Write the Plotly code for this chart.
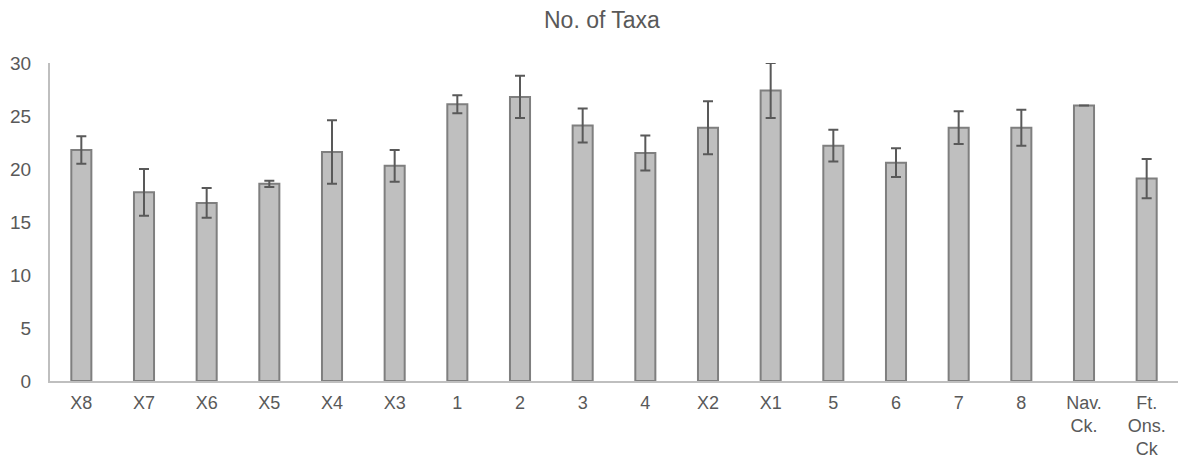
import plotly.graph_objects as go

# Sampling sites along the stream, mean taxa counts and their error bars
sites = ["X8", "X7", "X6", "X5", "X4", "X3", "1", "2", "3", "4",
         "X2", "X1", "5", "6", "7", "8", "Nav.<br>Ck.", "Ft.<br>Ons.<br>Ck"]
taxa_mean = [21.8, 17.8, 16.8, 18.6, 21.6, 20.3, 26.1, 26.8, 24.1, 21.5,
             23.9, 27.4, 22.2, 20.6, 23.9, 23.9, 26.0, 19.1]
taxa_err = [1.3, 2.2, 1.4, 0.3, 3.0, 1.5, 0.85, 2.0, 1.6, 1.65,
            2.5, 2.6, 1.5, 1.35, 1.55, 1.7, 0.0, 1.85]
y_ticks = [0, 5, 10, 15, 20, 25, 30]

text_color = "#595959"
axis_color = "#BFBFBF"

fig = go.Figure(
    go.Bar(
        x=sites,
        y=taxa_mean,
        marker=dict(color="#BFBFBF", line=dict(color="#7F7F7F", width=2)),
        error_y=dict(type="data", array=taxa_err, visible=True,
                     color="#595959", thickness=2, width=5),
    )
)

fig.update_layout(
    width=1178,
    height=464,
    margin=dict(l=50, r=0, t=63, b=83),
    paper_bgcolor="white",
    plot_bgcolor="white",
    bargap=0.68,
    showlegend=False,
    font=dict(family="Liberation Sans, Arial, sans-serif", size=18, color=text_color),
    title=dict(text="No. of Taxa", x=0.511, xanchor="center", y=0.958, yanchor="middle",
               font=dict(size=23, color=text_color)),
)

fig.update_xaxes(
    showline=True, linecolor=axis_color, linewidth=2,
    showgrid=False, ticks="", ticklabelstandoff=4,
    tickfont=dict(size=18, color=text_color),
)
fig.update_yaxes(
    range=[0, 30], tickvals=y_ticks, showline=True, linecolor=axis_color, linewidth=2,
    showgrid=False, ticks="", zeroline=False, ticklabelstandoff=13,
    tickfont=dict(size=19, color=text_color),
)

fig.write_html("out.html")
